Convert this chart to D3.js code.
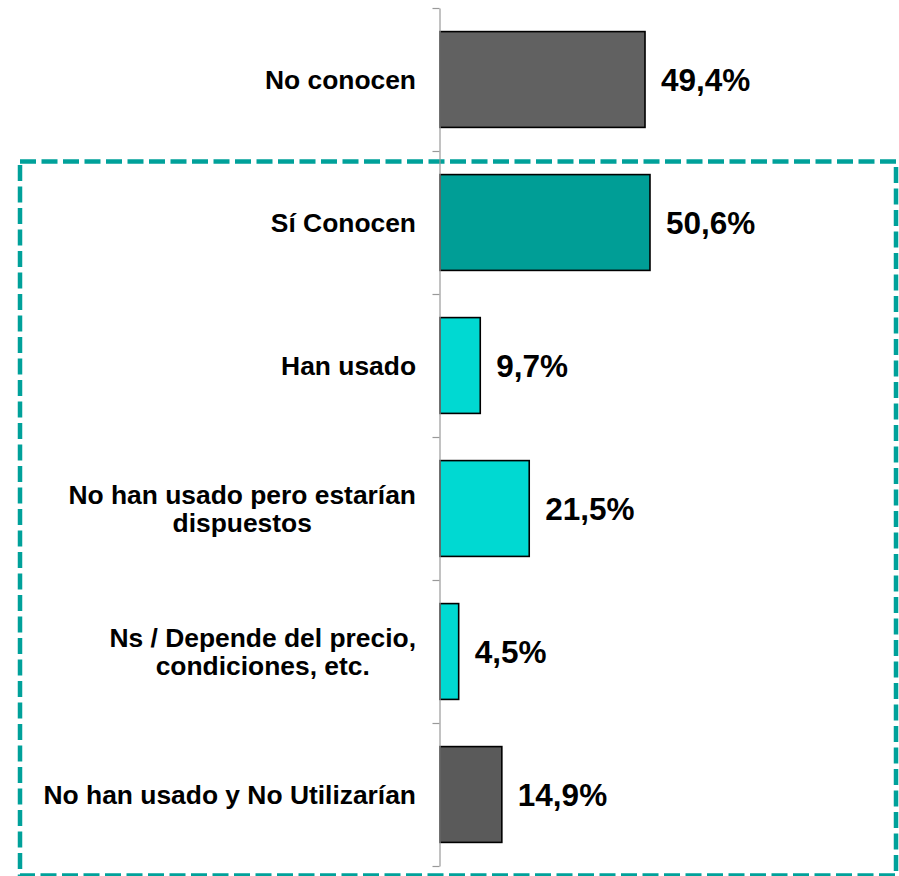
<!DOCTYPE html>
<html>
<head>
<meta charset="utf-8">
<script src="https://cdn.jsdelivr.net/npm/d3@7"></script>
<style>
  html, body { margin: 0; padding: 0; background: #fff; }
  svg { display: block; }
  text { font-family: "Liberation Sans", Arial, sans-serif; font-weight: bold; fill: #000; }
</style>
</head>
<body>
<script>
const categories = [
  "No conocen",
  "Sí Conocen",
  "Han usado",
  "No han usado pero estarían\ndispuestos",
  "Ns / Depende del precio,\ncondiciones, etc.",
  "No han usado y No Utilizarían"
];
const values = [49.4, 50.6, 9.7, 21.5, 4.5, 14.9];
const barColors = ["#616161", "#009E96", "#00D9D2", "#00D9D2", "#00D9D2", "#5A5A5A"];

const W = 899, H = 876;
const svg = d3.select("body").append("svg").attr("width", W).attr("height", H);

const x = d3.scaleLinear().domain([0, 100]).range([440, 855]);
const y = d3.scaleBand().domain(categories).range([8, 866]).paddingInner(0.33).paddingOuter(0.165);
const yEdges = d3.scaleLinear().domain([0, categories.length]).range([8, 866]);

const loc = d3.formatLocale({decimal: ",", thousands: ".", grouping: [3], currency: ["", "€"]});
const fmt = loc.format(".1f");

// dashed highlight box
svg.append("rect")
  .attr("x", 20).attr("y", 161.5)
  .attr("width", 876).attr("height", 714)
  .attr("fill", "none")
  .attr("stroke", "#00A19A")
  .attr("stroke-width", 4.5)
  .attr("stroke-dasharray", "16,5.5");

// bars
svg.selectAll("rect.bar").data(categories).enter().append("rect")
  .attr("class", "bar")
  .attr("x", x(0))
  .attr("y", d => y(d))
  .attr("width", (d, i) => x(values[i]) - x(0))
  .attr("height", y.bandwidth())
  .attr("fill", (d, i) => barColors[i])
  .attr("stroke", "#000")
  .attr("stroke-width", 1.6);

// axis with boundary ticks
const axis = d3.axisLeft(yEdges)
  .tickValues(d3.range(0, categories.length + 1))
  .tickSize(7).tickSizeOuter(0).tickFormat("");
const ag = svg.append("g").attr("transform", `translate(${x(0) - 0.5},0)`).call(axis);
ag.selectAll("path, line").attr("stroke", "#999").attr("stroke-width", 1.2);

// value labels
svg.selectAll("text.val").data(categories).enter().append("text")
  .attr("class", "val")
  .attr("x", (d, i) => x(values[i]) + 16)
  .attr("y", d => y(d) + y.bandwidth() / 2)
  .attr("dy", "0.36em")
  .attr("font-size", 31.5)
  .text((d, i) => fmt(values[i]) + "%");

// category labels
const labelRight = 416;
const lineH = 28.5;
categories.forEach(c => {
  const lines = c.split("\n");
  const cy = y(c) + y.bandwidth() / 2;
  const t = svg.append("text").attr("font-size", 26.4);
  const startY = cy - (lines.length - 1) * lineH / 2;
  const spans = lines.map((l, k) => t.append("tspan").attr("y", startY + k * lineH).attr("dy", "0.36em").text(l));
  if (lines.length === 1) {
    t.attr("text-anchor", "end");
    spans.forEach(s => s.attr("x", labelRight));
  } else {
    const maxW = d3.max(spans, s => s.node().getComputedTextLength());
    t.attr("text-anchor", "middle");
    spans.forEach(s => s.attr("x", labelRight - maxW / 2));
  }
});
</script>
</body>
</html>
